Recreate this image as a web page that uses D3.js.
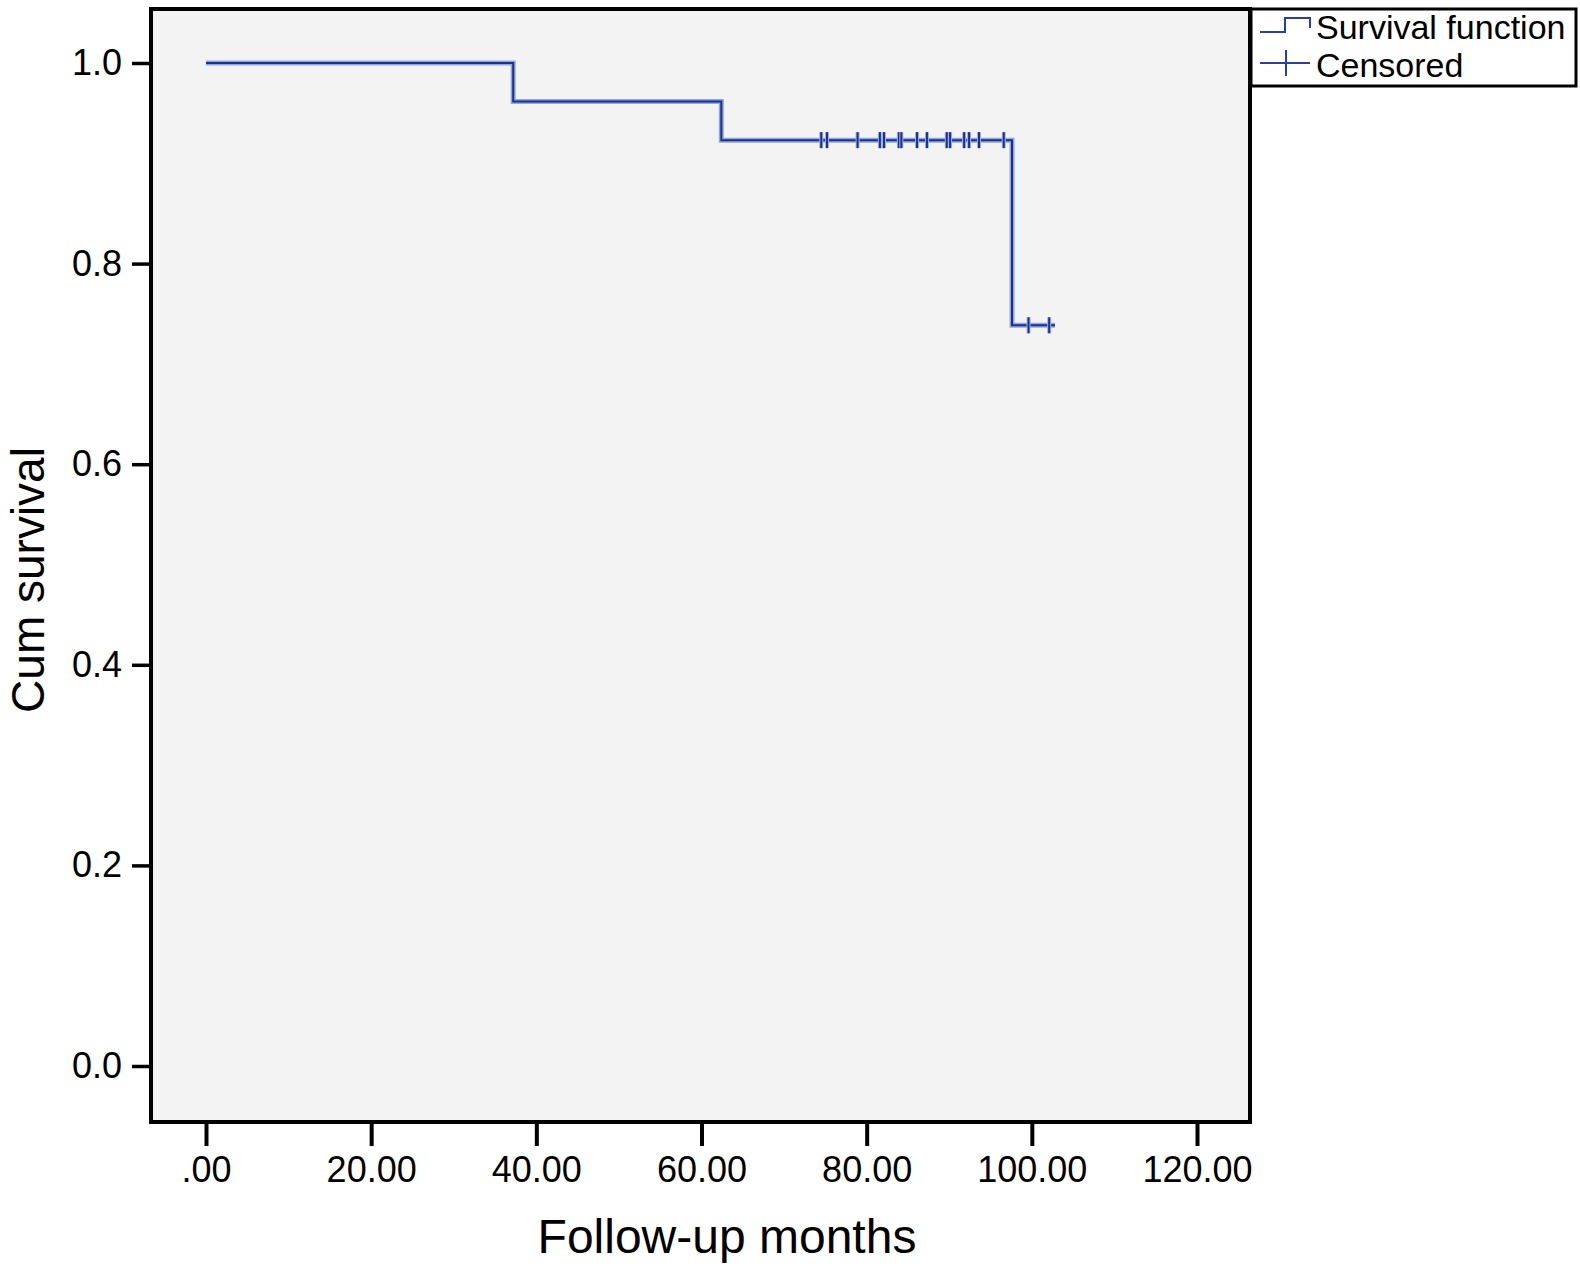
<!DOCTYPE html>
<html>
<head>
<meta charset="utf-8">
<script src="https://d3js.org/d3.v7.min.js"></script>
<style>
  body { margin: 0; background: #fff; }
  text { font-family: "Liberation Sans", Arial, Helvetica, sans-serif; fill: #000; }
</style>
</head>
<body>
<svg id="chart" width="1580" height="1266"></svg>
<script>

// step times (months) and survival level after each step
var stepTimes = [0, 37.2, 62.4, 97.6];
var stepSurv  = [1.0, 0.9615, 0.9231, 0.7385];
var lastTime  = 102.8;

// censored observations
var censTimes = [74.5, 75.2, 78.9, 81.6, 82.1, 83.9, 84.2, 86.1, 87.3, 89.7, 90.1, 91.8, 92.4, 93.6, 96.6, 99.6, 102.1];

var xTicks = [0, 20, 40, 60, 80, 100, 120];
var yTicks = [0, 0.2, 0.4, 0.6, 0.8, 1.0];

var legendLabels = ["Survival function", "Censored"];

var svg = d3.select("#chart");

var x = d3.scaleLinear().domain([0, 120]).range([206, 1197]);
var y = d3.scaleLinear().domain([0, 1]).range([1066, 63]);

// plot area
svg.append("rect")
    .attr("x", 151).attr("y", 9)
    .attr("width", 1099).attr("height", 1113)
    .attr("fill", "#f3f3f3")
    .attr("stroke", "#000")
    .attr("stroke-width", 4);

// y axis
var yAxis = d3.axisLeft(y)
    .tickValues(yTicks)
    .tickFormat(d3.format(".1f"))
    .tickSize(17)
    .tickPadding(10);

var gy = svg.append("g").attr("transform", "translate(149,0)").call(yAxis);
gy.select(".domain").remove();
gy.selectAll(".tick line").attr("stroke", "#000").attr("stroke-width", 3.5);
gy.selectAll(".tick text").style("font-size", "36px");

// x axis
var fmtX = function(d) { return d3.format(".2f")(d).replace(/^0\./, "."); };
var xAxis = d3.axisBottom(x)
    .tickValues(xTicks)
    .tickFormat(fmtX)
    .tickSize(22)
    .tickPadding(10);

var gx = svg.append("g").attr("transform", "translate(0,1124)").call(xAxis);
gx.select(".domain").remove();
gx.selectAll(".tick line").attr("stroke", "#000").attr("stroke-width", 4);
gx.selectAll(".tick text").style("font-size", "36px");

// axis titles
svg.append("text")
    .attr("x", 727).attr("y", 1253)
    .attr("text-anchor", "middle")
    .style("font-size", "48px")
    .text("Follow-up months");

svg.append("text")
    .attr("transform", "translate(44,580) rotate(-90)")
    .attr("text-anchor", "middle")
    .style("font-size", "46px")
    .text("Cum survival");

// survival step line
var pts = [];
stepTimes.forEach(function(t, i) {
    if (i > 0) pts.push([t, stepSurv[i - 1]]);
    pts.push([t, stepSurv[i]]);
});
pts.push([lastTime, stepSurv[stepSurv.length - 1]]);

var line = d3.line()
    .x(function(d) { return x(d[0]); })
    .y(function(d) { return y(d[1]); });

svg.append("path").datum(pts)
    .attr("d", line)
    .attr("fill", "none")
    .attr("stroke", "#8ea8de")
    .attr("stroke-width", 5);

svg.append("path").datum(pts)
    .attr("d", line)
    .attr("fill", "none")
    .attr("stroke", "#1f2f8c")
    .attr("stroke-width", 2);

// survival level at a time
function survAt(t) {
    var s = stepSurv[0];
    stepTimes.forEach(function(st, i) { if (t >= st) s = stepSurv[i]; });
    return s;
}

var cens = svg.append("g").selectAll("g")
    .data(censTimes)
    .enter()
    .append("g");

cens.append("line")
    .attr("x1", function(d) { return x(d); })
    .attr("x2", function(d) { return x(d); })
    .attr("y1", function(d) { return y(survAt(d)) - 8; })
    .attr("y2", function(d) { return y(survAt(d)) + 8; })
    .attr("stroke", "#9db2e2")
    .attr("stroke-width", 4);

cens.append("line")
    .attr("x1", function(d) { return x(d); })
    .attr("x2", function(d) { return x(d); })
    .attr("y1", function(d) { return y(survAt(d)) - 8; })
    .attr("y2", function(d) { return y(survAt(d)) + 8; })
    .attr("stroke", "#1f2f8c")
    .attr("stroke-width", 2);

// legend
var lg = svg.append("g");
lg.append("rect")
    .attr("x", 1251).attr("y", 9)
    .attr("width", 325).attr("height", 77)
    .attr("fill", "#fff")
    .attr("stroke", "#000")
    .attr("stroke-width", 3);

lg.append("path")
    .attr("d", "M1260,32 H1285 V18 H1310 V28")
    .attr("fill", "none")
    .attr("stroke", "#2b3f9c")
    .attr("stroke-width", 2);

lg.append("line")
    .attr("x1", 1260).attr("x2", 1310)
    .attr("y1", 63).attr("y2", 63)
    .attr("stroke", "#2b3f9c").attr("stroke-width", 2);
lg.append("line")
    .attr("x1", 1286).attr("x2", 1286)
    .attr("y1", 50).attr("y2", 76)
    .attr("stroke", "#2b3f9c").attr("stroke-width", 2);

lg.selectAll(".lgtxt")
    .data(legendLabels)
    .enter()
    .append("text")
    .attr("class", "lgtxt")
    .attr("x", 1316)
    .attr("y", function(d, i) { return 39 + i * 38; })
    .style("font-size", "34px")
    .text(function(d) { return d; });

</script>
</body>
</html>
